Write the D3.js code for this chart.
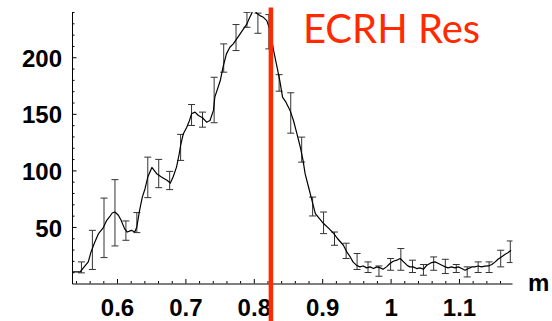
<!DOCTYPE html>
<html>
<head>
<meta charset="utf-8">
<script src="https://cdn.jsdelivr.net/npm/d3@7"></script>
<style>
  html, body { margin: 0; padding: 0; background: #fff; }
  svg { display: block; }
</style>
</head>
<body>
<svg id="chart" width="552" height="321"></svg>
<script>
// x in m, y in counts
const xDomain = [0.5342, 1.1775];
const yDomain = [0, 240];

const xTicks = [0.6, 0.7, 0.8, 0.9, 1.0, 1.1];
const xTickLabels = ["0.6", "0.7", "0.8", "0.9", "1", "1.1"];
const xMinor = [0.54,0.56,0.58,0.62,0.64,0.66,0.68,0.72,0.74,0.76,0.78,0.82,0.84,0.86,0.88,0.92,0.94,0.96,0.98,1.02,1.04,1.06,1.08,1.12,1.14,1.16];
const yTicks = [50, 100, 150, 200];
const yTickLabels = ["50", "100", "150", "200"];
const yMinor = [10,20,30,40,60,70,80,90,110,120,130,140,160,170,180,190,210,220,230,240];

// smoothed profile [x, y]
const profile = [
  [0.534,10.2],[0.546,10.2],[0.552,14.7],[0.558,19.1],[0.562,27.9],[0.567,35.8],[0.573,44.1],[0.580,49.4],
  [0.585,55.9],[0.589,58.8],[0.593,62.3],[0.597,63.2],[0.602,60.3],[0.606,55.9],[0.611,48.5],[0.615,45.5],
  [0.621,47.0],[0.626,45.5],[0.629,50.0],[0.633,64.7],[0.637,76.4],[0.641,83.8],[0.645,94.1],[0.651,102.6],
  [0.658,97.1],[0.665,94.1],[0.673,91.2],[0.678,88.8],[0.682,94.1],[0.687,102.9],[0.691,114.7],[0.693,122.1],
  [0.697,132.4],[0.702,138.2],[0.706,144.1],[0.709,150.0],[0.714,151.5],[0.719,148.5],[0.725,146.5],[0.731,142.6],
  [0.736,144.1],[0.741,153.0],[0.743,164.7],[0.751,179.4],[0.755,191.2],[0.760,203.0],[0.765,208.8],[0.770,211.8],
  [0.775,216.2],[0.780,220.7],[0.785,225.1],[0.790,229.5],[0.793,233.9],[0.797,238.8],[0.800,244.5],[0.804,238.8],
  [0.809,236.8],[0.814,235.3],[0.819,232.4],[0.824,223.6],[0.829,205.9],[0.834,191.2],[0.836,185.3],[0.838,179.4],
  [0.842,164.7],[0.847,160.3],[0.853,153.0],[0.858,144.1],[0.863,132.4],[0.868,120.6],[0.872,108.8],[0.875,97.1],
  [0.880,85.3],[0.885,73.5],[0.890,61.8],[0.896,57.4],[0.902,53.0],[0.910,48.5],[0.917,44.1],[0.922,40.0],
  [0.931,33.8],[0.936,27.9],[0.941,23.5],[0.945,19.1],[0.950,16.2],[0.955,14.7],[0.960,15.5],[0.965,13.8],
  [0.970,14.7],[0.975,13.2],[0.980,14.7],[0.985,13.8],[0.989,12.6],[0.994,14.7],[0.999,17.7],[1.004,19.7],
  [1.009,20.6],[1.014,22.1],[1.019,19.1],[1.024,16.2],[1.028,14.7],[1.033,14.7],[1.038,13.2],[1.043,13.8],
  [1.048,12.6],[1.053,16.2],[1.060,18.5],[1.065,19.1],[1.070,17.7],[1.075,16.2],[1.080,14.7],[1.084,13.8],
  [1.089,14.7],[1.094,13.8],[1.099,14.7],[1.104,13.2],[1.109,11.7],[1.114,13.2],[1.119,14.7],[1.123,14.7],
  [1.128,15.5],[1.133,14.7],[1.138,15.3],[1.143,15.5],[1.148,16.8],[1.153,19.1],[1.157,21.4],[1.162,23.5],
  [1.167,25.6],[1.172,27.4],[1.176,29.4]
];

// error bars
const errX = [0.548,0.564,0.581,0.597,0.613,0.629,0.645,0.661,0.677,0.693,
              0.709,0.725,0.742,0.756,0.774,0.790,0.806,0.822,0.837,0.854,
              0.870,0.886,0.902,0.918,0.935,0.951,0.967,0.983,1.000,1.015,
              1.032,1.048,1.063,1.080,1.096,1.112,1.128,1.144,1.161,1.175];
const errLow = [9.4,12.4,22.9,33.2,38.2,45.0,75.9,84.7,83.0,108.8,
                139.7,138.2,142.1,186.8,205.9,226.5,221.2,207.4,170.0,132.9,
                107.3,59.7,44.1,33.8,22.1,12.4,9.7,6.4,11.7,11.7,
                9.7,7.3,11.7,8.8,9.7,5.8,9.7,9.7,14.7,18.5];
const errHigh = [19.1,47.0,75.5,91.8,55.3,62.7,111.7,109.7,99.1,131.8,
                 158.2,151.5,182.3,211.8,228.9,239.7,239.0,237.7,184.6,168.6,
                 129.4,76.4,63.2,45.5,35.6,26.5,19.1,15.5,22.1,30.9,
                 20.6,16.8,23.5,21.4,16.8,14.7,19.1,19.1,29.4,37.6];

// resonance marker
const resX = 0.825;
const resSpan = [-34, 244];
const resLabel = "ECRH Res";
const xAxisUnit = "m";

const svg = d3.select("#chart");
const plot = {left: 72, right: 512, top: 12, bottom: 283.5};

const x = d3.scaleLinear().domain(xDomain).range([plot.left, plot.right]);
const y = d3.scaleLinear().domain(yDomain).range([plot.bottom, plot.top]);

svg.append("defs").append("clipPath")
  .attr("id", "clip")
  .append("rect")
  .attr("x", plot.left)
  .attr("y", plot.top)
  .attr("width", plot.right - plot.left + 0.5)
  .attr("height", plot.bottom - plot.top);

const tickFont = g => g
  .attr("font-family", "'Liberation Sans', Arial, Helvetica, sans-serif")
  .attr("font-size", 24)
  .attr("font-weight", "bold");

// y axis (ticks point inward)
svg.append("g")
  .attr("transform", "translate(" + plot.left + ",0)")
  .call(d3.axisLeft(y).tickValues(yMinor).tickSize(-2.5).tickFormat(""))
  .call(g => g.select(".domain").remove());
svg.append("g")
  .attr("transform", "translate(" + plot.left + ",0)")
  .call(d3.axisLeft(y).tickValues(yTicks).tickSizeInner(-4.5).tickSizeOuter(0).tickPadding(10)
    .tickFormat((d, i) => yTickLabels[i]))
  .call(tickFont)
  .call(g => g.selectAll("text").attr("fill", "#000").attr("dy", "0.38em"));

// x axis
svg.append("g")
  .attr("transform", "translate(0," + plot.bottom + ")")
  .call(d3.axisBottom(x).tickValues(xMinor).tickSize(-2.5).tickFormat(""))
  .call(g => g.select(".domain").remove());
svg.append("g")
  .attr("transform", "translate(0," + plot.bottom + ")")
  .call(d3.axisBottom(x).tickValues(xTicks).tickSizeInner(-4.5).tickSizeOuter(0).tickPadding(15)
    .tickFormat((d, i) => xTickLabels[i]))
  .call(tickFont)
  .call(g => g.selectAll("text").attr("fill", "#000"));

svg.append("text")
  .attr("x", plot.right + 16)
  .attr("y", plot.bottom + 7)
  .attr("font-family", "'Liberation Sans', Arial, Helvetica, sans-serif")
  .attr("font-size", 24)
  .attr("font-weight", "bold")
  .text(xAxisUnit);

const data = svg.append("g").attr("clip-path", "url(#clip)");

// error bars
const bars = data.append("g")
  .attr("stroke", "#333")
  .attr("stroke-width", 1)
  .attr("fill", "none");
errX.forEach((xv, i) => {
  const cx = x(xv);
  bars.append("line").attr("x1", cx).attr("x2", cx).attr("y1", y(errLow[i])).attr("y2", y(errHigh[i]));
  bars.append("line").attr("x1", cx - 3.5).attr("x2", cx + 3.5).attr("y1", y(errLow[i])).attr("y2", y(errLow[i]));
  bars.append("line").attr("x1", cx - 3.5).attr("x2", cx + 3.5).attr("y1", y(errHigh[i])).attr("y2", y(errHigh[i]));
});

// profile curve
data.append("path")
  .datum(profile)
  .attr("fill", "none")
  .attr("stroke", "#000")
  .attr("stroke-width", 1.2)
  .attr("stroke-linejoin", "round")
  .attr("d", d3.line().x(d => x(d[0])).y(d => y(d[1])));

// resonance line
svg.append("line")
  .attr("x1", x(resX)).attr("x2", x(resX))
  .attr("y1", y(resSpan[1])).attr("y2", y(resSpan[0]))
  .attr("stroke", "#ff2a00")
  .attr("stroke-width", 4.5);

svg.append("text")
  .attr("x", x(resX) + 32)
  .attr("y", 43)
  .attr("fill", "#ff2a00")
  .attr("font-family", "Lato, 'Open Sans', sans-serif")
  .attr("font-size", 40)
  .text(resLabel);
</script>
</body>
</html>
